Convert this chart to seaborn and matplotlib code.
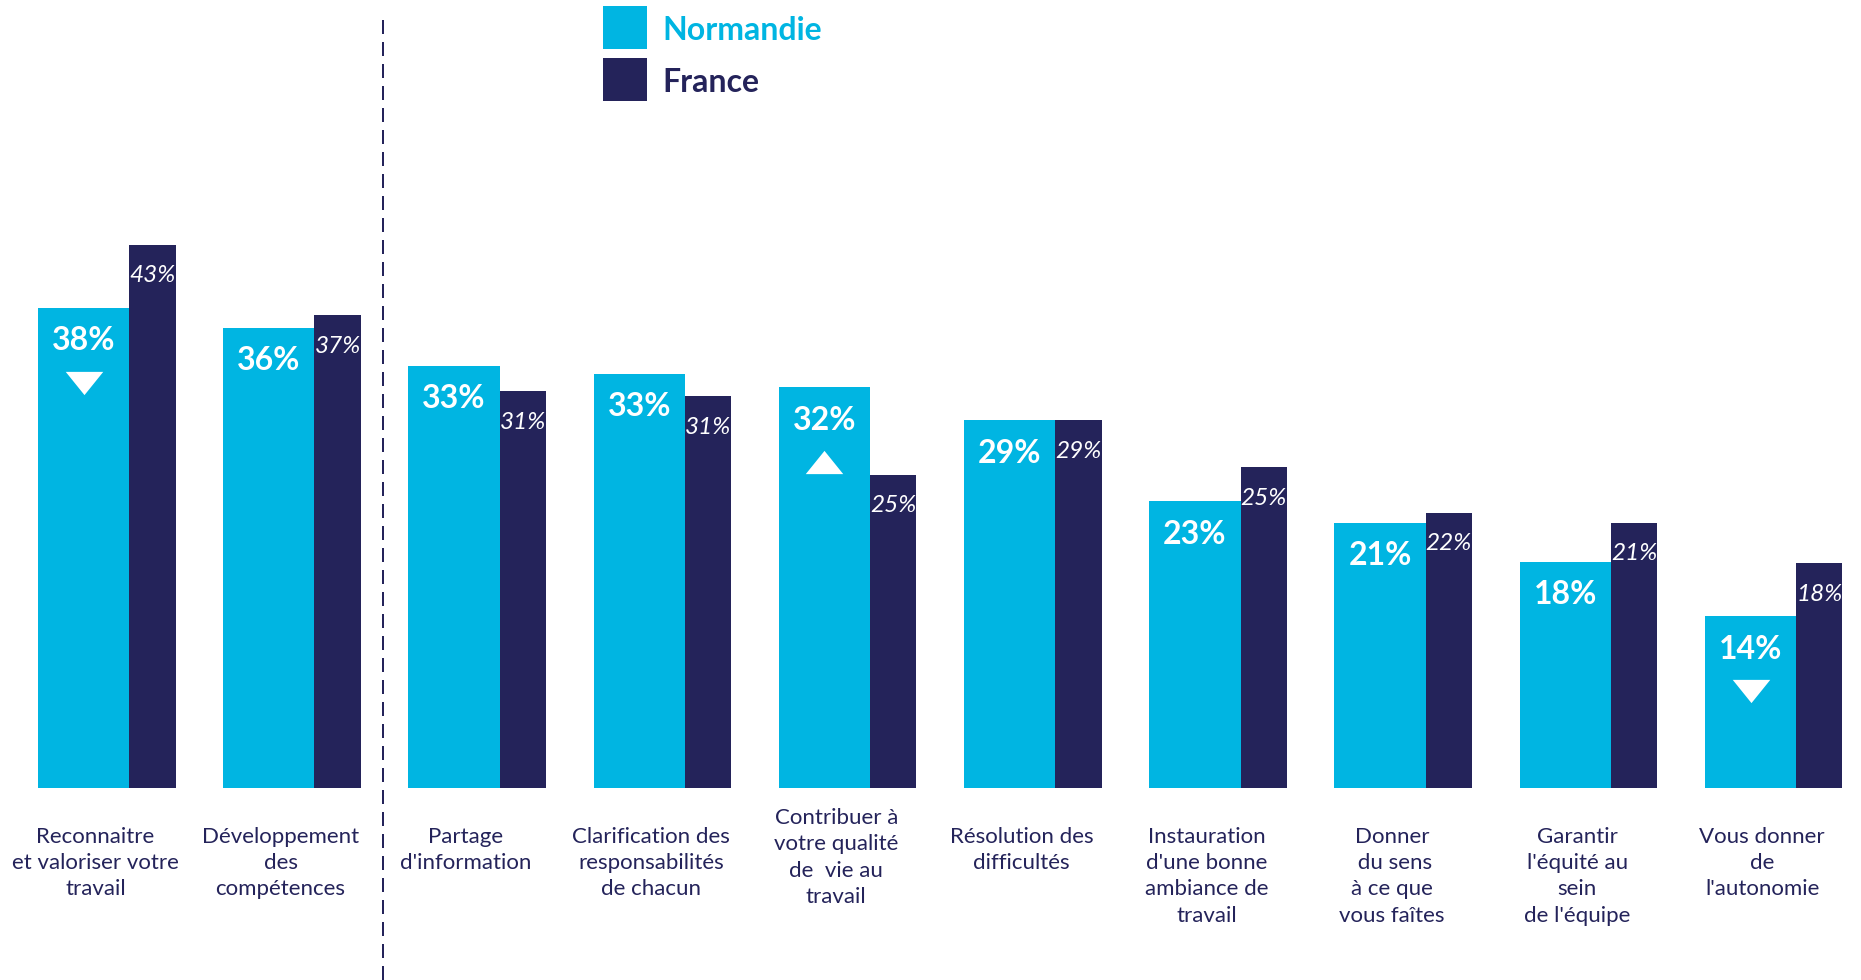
import matplotlib
matplotlib.use("Agg")
import matplotlib.pyplot as plt
from matplotlib.patches import Rectangle
from matplotlib.path import Path
import numpy as np
import seaborn as sns

# ---------------- data ----------------
categories = [
    "Reconnaitre\net valoriser votre\ntravail",
    "Développement\ndes\ncompétences",
    "Partage\nd'information",
    "Clarification des\nresponsabilités\nde chacun",
    "Contribuer à\nvotre qualité\nde  vie au\ntravail",
    "Résolution des\ndifficultés",
    "Instauration\nd'une bonne\nambiance de\ntravail",
    "Donner\n du sens\nà ce que\nvous faîtes",
    "Garantir\nl'équité au\nsein\nde l'équipe",
    "Vous donner\nde\nl'autonomie",
]
normandie = [38.0, 36.4, 33.4, 32.8, 31.7, 29.1, 22.7, 21.0, 17.9, 13.6]
france = [43.0, 37.4, 31.4, 31.0, 24.8, 29.1, 25.4, 21.8, 21.0, 17.8]
trend = ["down", None, None, None, "up", None, None, None, None, "down"]
series_names = ["Normandie", "France"]

# ---------------- style ----------------
C_NORM = "#00B5E2"
C_FR = "#24235A"
sns.set_theme(style="white")
plt.rcParams["font.family"] = ["Lato", "DejaVu Sans"]

W, H = 1861, 980
fig = plt.figure(figsize=(W / 100, H / 100), dpi=100)
ax = fig.add_axes([0, 0, 1, 1])

idx = np.arange(len(categories))
wn, wf = 0.493, 0.25
xn = idx + wn / 2
xf = idx + wn + wf / 2

sns.barplot(x=xn, y=normandie, native_scale=True, width=wn, color=C_NORM,
            saturation=1, linewidth=0, errorbar=None, ax=ax)
sns.barplot(x=xf, y=france, native_scale=True, width=wf, color=C_FR,
            saturation=1, linewidth=0, errorbar=None, ax=ax)

ax.set_xlim(-0.205, 9.843)
ax.set_ylim(-15.18, 62.35)
ax.axis("off")

# value labels
for x, v in zip(xn, normandie):
    ax.text(x, v - 2.6, f"{round(v)}%", ha="center", va="center",
            color="white", fontsize=23, fontweight="bold", zorder=6)
for x, v in zip(xf, france):
    ax.text(x, v - 2.45, f"{round(v)}%", ha="center", va="center",
            color="white", fontsize=17.5, fontstyle="italic",
            fontweight="normal", zorder=6)

# trend triangles
down_m = Path([(-1, 0.62), (1, 0.62), (0, -0.62), (-1, 0.62)],
              [Path.MOVETO, Path.LINETO, Path.LINETO, Path.CLOSEPOLY])
up_m = Path([(-1, -0.62), (1, -0.62), (0, 0.62), (-1, -0.62)],
            [Path.MOVETO, Path.LINETO, Path.LINETO, Path.CLOSEPOLY])
for x, v, t in zip(xn, normandie, trend):
    if t is None:
        continue
    ax.scatter([x], [v - 5.93], marker=down_m if t == "down" else up_m,
               s=27 ** 2, color="white", linewidths=0, zorder=5)

# category labels
label_nudge = {4: 1.5}
for i, lab in enumerate(categories):
    ax.text(i + 0.31, -3.1 + label_nudge.get(i, 0), lab, ha="center", va="top",
            color=C_FR, fontsize=16, linespacing=1.38)

# dashed separator
ax.plot([1.865, 1.865], [-15.18, 61.0], color=C_FR, lw=1.44,
        linestyle=(0, (7, 4)), zorder=1)

# legend
for j, (name, col) in enumerate(zip(series_names, [C_NORM, C_FR])):
    top = 6 + j * 52
    fig.add_artist(Rectangle((603 / W, 1 - (top + 43) / H), 44 / W, 43 / H,
                             transform=fig.transFigure, color=col, lw=0))
    fig.text(662 / W, 1 - (top + 24) / H, name, ha="left", va="center",
             color=col, fontsize=23, fontweight="bold")

fig.savefig("out.png", dpi=100)
